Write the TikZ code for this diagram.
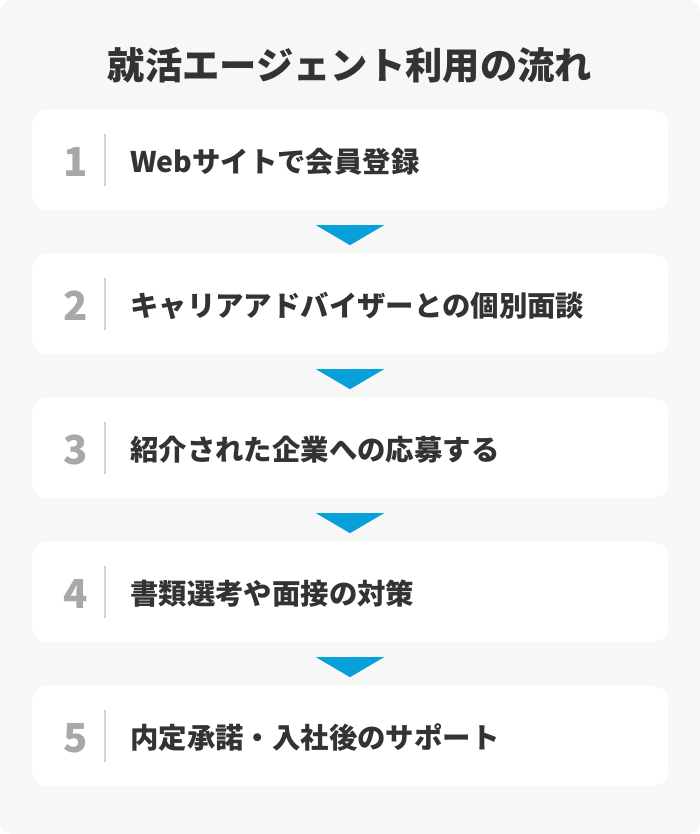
\documentclass[tikz,border=0pt]{standalone}
\usepackage{fontspec}
\setmainfont{Noto Sans CJK JP}
\definecolor{flowBlue}{RGB}{8,160,216}
\definecolor{flowBack}{RGB}{247,247,247}
\definecolor{flowText}{RGB}{51,51,51}

\begin{document}
\begin{tikzpicture}[x=1pt, y=1pt,
        title/.style={font=\fontsize{37.3}{37.3}\selectfont\bfseries, text=flowText, inner sep=0pt},
        stepbox/.style={rectangle, fill=white, rounded corners=15pt, minimum width=636pt, minimum height=100pt, inner sep=0pt},
        stepnum/.style={font=\fontsize{40}{40}\selectfont\bfseries, text=black!34, inner sep=0pt},
        steptext/.style={anchor=west, font=\fontsize{28.4}{28.4}\selectfont\bfseries, text=flowText, inner sep=0pt},
        divider/.style={draw=black!17, line width=1.6pt},
        pointer/.style={fill=flowBlue}
    ]
        \useasboundingbox (0,0) rectangle (700,834);
        \fill[flowBack, rounded corners=12pt] (0,0) rectangle (700,834);

        \node[title] (head) at (350,769) {就活エージェント利用の流れ};

        \foreach \i/\txt in {1/Webサイトで会員登録,2/キャリアアドバイザーとの個別面談,3/紹介された企業への応募する,4/書類選考や面接の対策,5/内定承諾・入社後のサポート} {
            \node[stepbox] (s\i) at (350,{674-144*(\i-1)}) {};
            \node[stepnum] (n\i) at ([xshift=-274pt,yshift=-2pt]s\i.center) {\i};
            \draw[divider] ([xshift=-245pt,yshift=26pt]s\i.center) -- ([xshift=-245pt,yshift=-26pt]s\i.center);
            \node[steptext] (t\i) at ([xshift=-220pt,yshift=-2pt]s\i.center) {\txt};
        }

        % arrows between the steps
        \foreach \i in {1,...,4} {
            \fill[pointer] ([xshift=-34pt,yshift=-15pt]s\i.south) -- ([xshift=34pt,yshift=-15pt]s\i.south) -- ([yshift=-35pt]s\i.south) -- cycle;
        }
    \end{tikzpicture}
\end{document}
